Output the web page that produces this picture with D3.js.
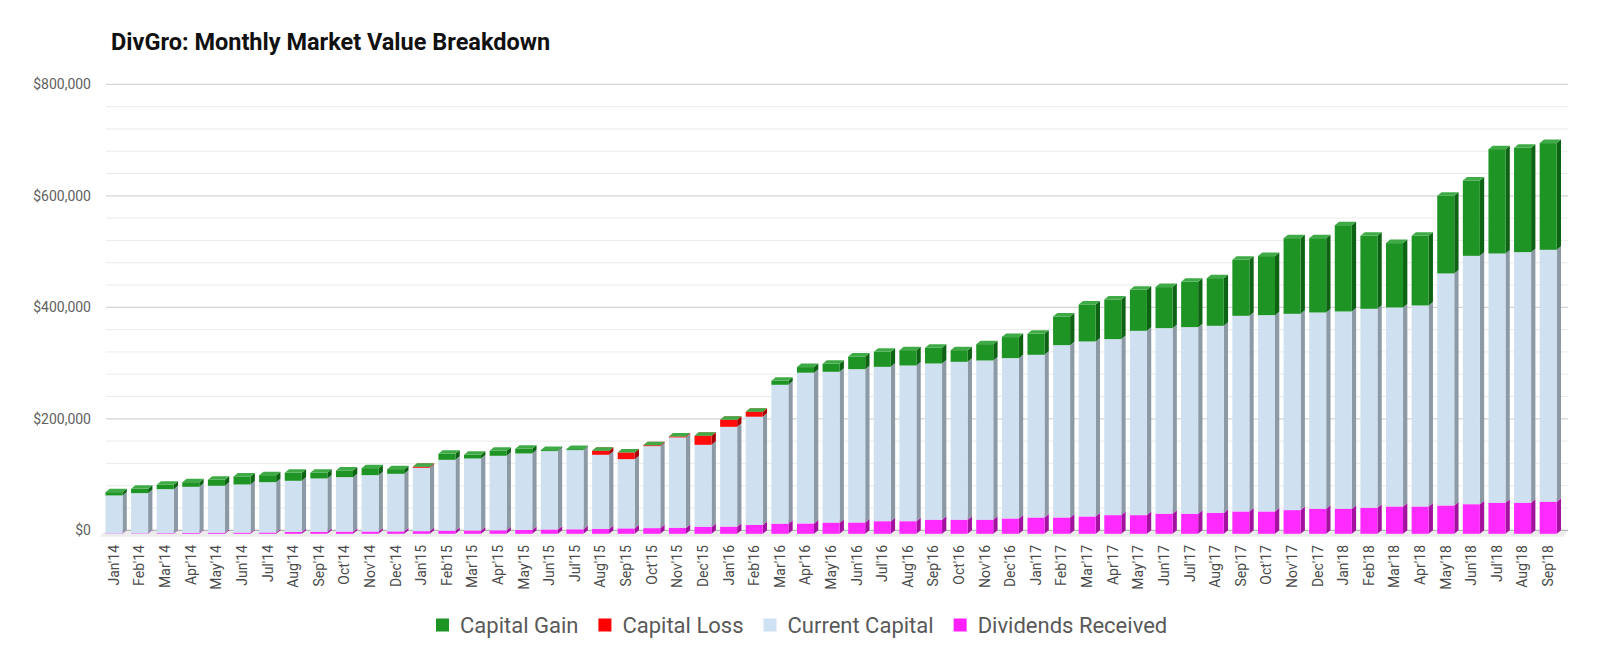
<!DOCTYPE html>
<html>
<head>
<meta charset="utf-8">
<script src="https://cdn.jsdelivr.net/npm/d3@7"></script>
<style>
  body { margin: 0; background: #fff; }
  svg { font-family: Roboto, "Noto Sans", sans-serif; }
</style>
</head>
<body>
<svg id="chart" width="1600" height="667"></svg>
<script>
// values, in dollars
var months = ["Jan'14","Feb'14","Mar'14","Apr'14","May'14","Jun'14","Jul'14","Aug'14","Sep'14","Oct'14","Nov'14","Dec'14",
  "Jan'15","Feb'15","Mar'15","Apr'15","May'15","Jun'15","Jul'15","Aug'15","Sep'15","Oct'15","Nov'15","Dec'15",
  "Jan'16","Feb'16","Mar'16","Apr'16","May'16","Jun'16","Jul'16","Aug'16","Sep'16","Oct'16","Nov'16","Dec'16",
  "Jan'17","Feb'17","Mar'17","Apr'17","May'17","Jun'17","Jul'17","Aug'17","Sep'17","Oct'17","Nov'17","Dec'17",
  "Jan'18","Feb'18","Mar'18","Apr'18","May'18","Jun'18","Jul'18","Aug'18","Sep'18"];

var dividends = [500, 800, 1100, 1400, 1700, 2000, 2300, 3200, 3500, 3800, 4100, 4400,
  4800, 5600, 6000, 6400, 6800, 7800, 8200, 8600, 9800, 10200, 10600, 12400,
  12800, 15800, 18000, 18600, 20000, 20300, 22700, 22700, 25100, 25100, 25100, 27500,
  29300, 29300, 31100, 33500, 33500, 35900, 35900, 37400, 40100, 40100, 42500, 44800,
  44800, 46600, 49000, 49000, 50800, 53200, 55600, 55600, 57400];

var capital = [68300, 72100, 79000, 82900, 84400, 86500, 90300, 91900, 95800, 97800, 101100, 103200,
  113600, 127100, 129100, 133500, 137300, 140500, 141900, 133100, 124100, 147000, 162200, 147200,
  179100, 194200, 249300, 270400, 270600, 275000, 276800, 279200, 280400, 283400, 285800, 287600,
  291800, 309100, 313900, 315700, 330600, 333000, 334800, 335700, 350900, 352100, 352100, 352200,
  354000, 357000, 357000, 360600, 416200, 445400, 447200, 449600, 452000];

var loss = [0, 0, 0, 0, 0, 0, 0, 0, 0, 0, 0, 0,
  1800, 0, 0, 0, 0, 0, 0, 7200, 12000, 1800, 1800, 16200,
  12600, 9000, 0, 0, 0, 0, 0, 0, 0, 0, 0, 0,
  0, 0, 0, 0, 0, 0, 0, 0, 0, 0, 0, 0,
  0, 0, 0, 0, 0, 0, 0, 0, 0];

var gain = [5900, 7800, 7800, 8300, 10800, 14400, 12600, 14300, 10100, 12000, 12600, 8400,
  0, 10800, 6600, 9000, 8400, 1800, 1800, 0, 0, 0, 0, 0,
  0, 0, 7100, 10000, 14300, 22800, 27000, 27500, 28100, 20900, 29300, 37700,
  37600, 51400, 66400, 71100, 73600, 73600, 81300, 85500, 100500, 105900, 135700, 133300,
  154800, 130900, 115400, 124900, 139300, 135200, 187200, 187200, 191400];

var yTicks = [0, 200000, 400000, 600000, 800000];
var seriesKeys = ["div", "cap", "loss", "gain"];
var legendNames = ["Capital Gain", "Capital Loss", "Current Capital", "Dividends Received"];
var legendKeys = ["gain", "loss", "cap", "div"];

var colors = {
  gain: { front: "#1e9424", side: "#0d6213", top: "#3fab47", key: "#1e9424" },
  loss: { front: "#ff0d0d", side: "#a80000", top: "#ff5050", key: "#ff0000" },
  cap:  { front: "#cfe1f1", side: "#8c9aa6", top: "#e3eef8", key: "#cfe2f3" },
  div:  { front: "#ff2aff", side: "#a3129f", top: "#ff80ff", key: "#ff1fff" }
};

var svg = d3.select("#chart");
var plotLeft = 106, plotRight = 1568, plotTop = 84.3, plotBase = 530.3;
var dx = 4.3, dy = 3.5;

var x = d3.scaleBand().domain(months).range([plotLeft, plotRight])
  .paddingInner(0.335).paddingOuter(0.21).align(0.35);
var y = d3.scaleLinear().domain([0, 800000]).range([plotBase, plotTop]);
var w = x.bandwidth();

// title
svg.append("text")
  .attr("x", 111).attr("y", 50)
  .attr("font-size", 23.5).attr("font-weight", "bold").attr("fill", "#111")
  .text("DivGro: Monthly Market Value Breakdown");

// grid lines
var grid = svg.append("g");
grid.selectAll("line.minor")
  .data(d3.range(0, 800001, 40000).filter(function (v) { return v % 200000 != 0; }))
  .enter().append("line")
  .attr("x1", plotLeft).attr("x2", plotRight)
  .attr("y1", function (d) { return y(d); }).attr("y2", function (d) { return y(d); })
  .attr("stroke", "#ebebeb").attr("stroke-width", 1);
grid.selectAll("line.major")
  .data(yTicks.filter(function (v) { return v > 0; }))
  .enter().append("line")
  .attr("x1", plotLeft).attr("x2", plotRight)
  .attr("y1", function (d) { return y(d); }).attr("y2", function (d) { return y(d); })
  .attr("stroke", "#d5d5d5").attr("stroke-width", 1.2);

// floor
svg.append("polygon")
  .attr("points", [[plotLeft, plotBase], [plotRight, plotBase], [plotRight - 5, plotBase + 6.5], [plotLeft - 6, plotBase + 6.5]].join(" "))
  .attr("fill", "#ececec");
svg.append("line")
  .attr("x1", plotLeft).attr("x2", plotRight).attr("y1", plotBase).attr("y2", plotBase)
  .attr("stroke", "#a8a8a8").attr("stroke-width", 1);

// y axis labels
svg.append("g").selectAll("text")
  .data(yTicks).enter().append("text")
  .attr("x", 91).attr("y", function (d) { return y(d); })
  .attr("dy", "0.35em").attr("text-anchor", "end")
  .attr("font-size", 14).attr("fill", "#616161")
  .text(function (d) { return "$" + d3.format(",")(d); });

// stacked 3d bars
var rows = months.map(function (m, i) {
  return { month: m, div: dividends[i], cap: capital[i], loss: loss[i], gain: gain[i] };
});
var layers = d3.stack().keys(seriesKeys)(rows);

function frontX(d) { return x(d.data.month) - dx; }

var bars = svg.append("g");
layers.forEach(function (layer) {
  var c = colors[layer.key];
  var g = bars.append("g");
  var segs = layer.filter(function (d) { return d[1] - d[0] > 0; });

  g.selectAll("polygon.side").data(segs).enter().append("polygon")
    .attr("fill", c.side)
    .attr("points", function (d) {
      var fx = frontX(d) + w, yt = y(d[1]) + dy, yb = y(d[0]) + dy;
      return [[fx, yt], [fx + dx, yt - dy], [fx + dx, yb - dy], [fx, yb]].join(" ");
    });
  g.selectAll("rect").data(segs).enter().append("rect")
    .attr("x", frontX)
    .attr("y", function (d) { return y(d[1]) + dy; })
    .attr("width", w)
    .attr("height", function (d) { return y(d[0]) - y(d[1]); })
    .attr("fill", c.front);
  // the top series always gets a lid, even when it is empty
  g.selectAll("polygon.top").data(layer.key == "gain" ? layer : segs).enter().append("polygon")
    .attr("fill", c.top)
    .attr("points", function (d) {
      var fx = frontX(d), yt = y(d[1]) + dy;
      return [[fx, yt], [fx + dx, yt - dy], [fx + w + dx, yt - dy], [fx + w, yt]].join(" ");
    });
});

// x axis labels
svg.append("g").selectAll("text")
  .data(months).enter().append("text")
  .attr("transform", function (d) {
    return "translate(" + (x(d) - dx + w / 2) + ",545) rotate(-90)";
  })
  .attr("dy", "0.35em").attr("text-anchor", "end")
  .attr("font-size", 14).attr("fill", "#4a4a4a")
  .text(function (d) { return d; });

// legend
var legend = svg.append("g").attr("transform", "translate(436,625)");
var lx = 0;
legendNames.forEach(function (name, i) {
  var item = legend.append("g").attr("transform", "translate(" + lx + ",0)");
  item.append("rect")
    .attr("x", 0).attr("y", -6.5).attr("width", 13).attr("height", 13)
    .attr("fill", colors[legendKeys[i]].key);
  var t = item.append("text")
    .attr("x", 24).attr("dy", "0.35em")
    .attr("font-size", 22).attr("fill", "#595959")
    .text(name);
  lx += 24 + t.node().getComputedTextLength() + 20;
});
</script>
</body>
</html>
